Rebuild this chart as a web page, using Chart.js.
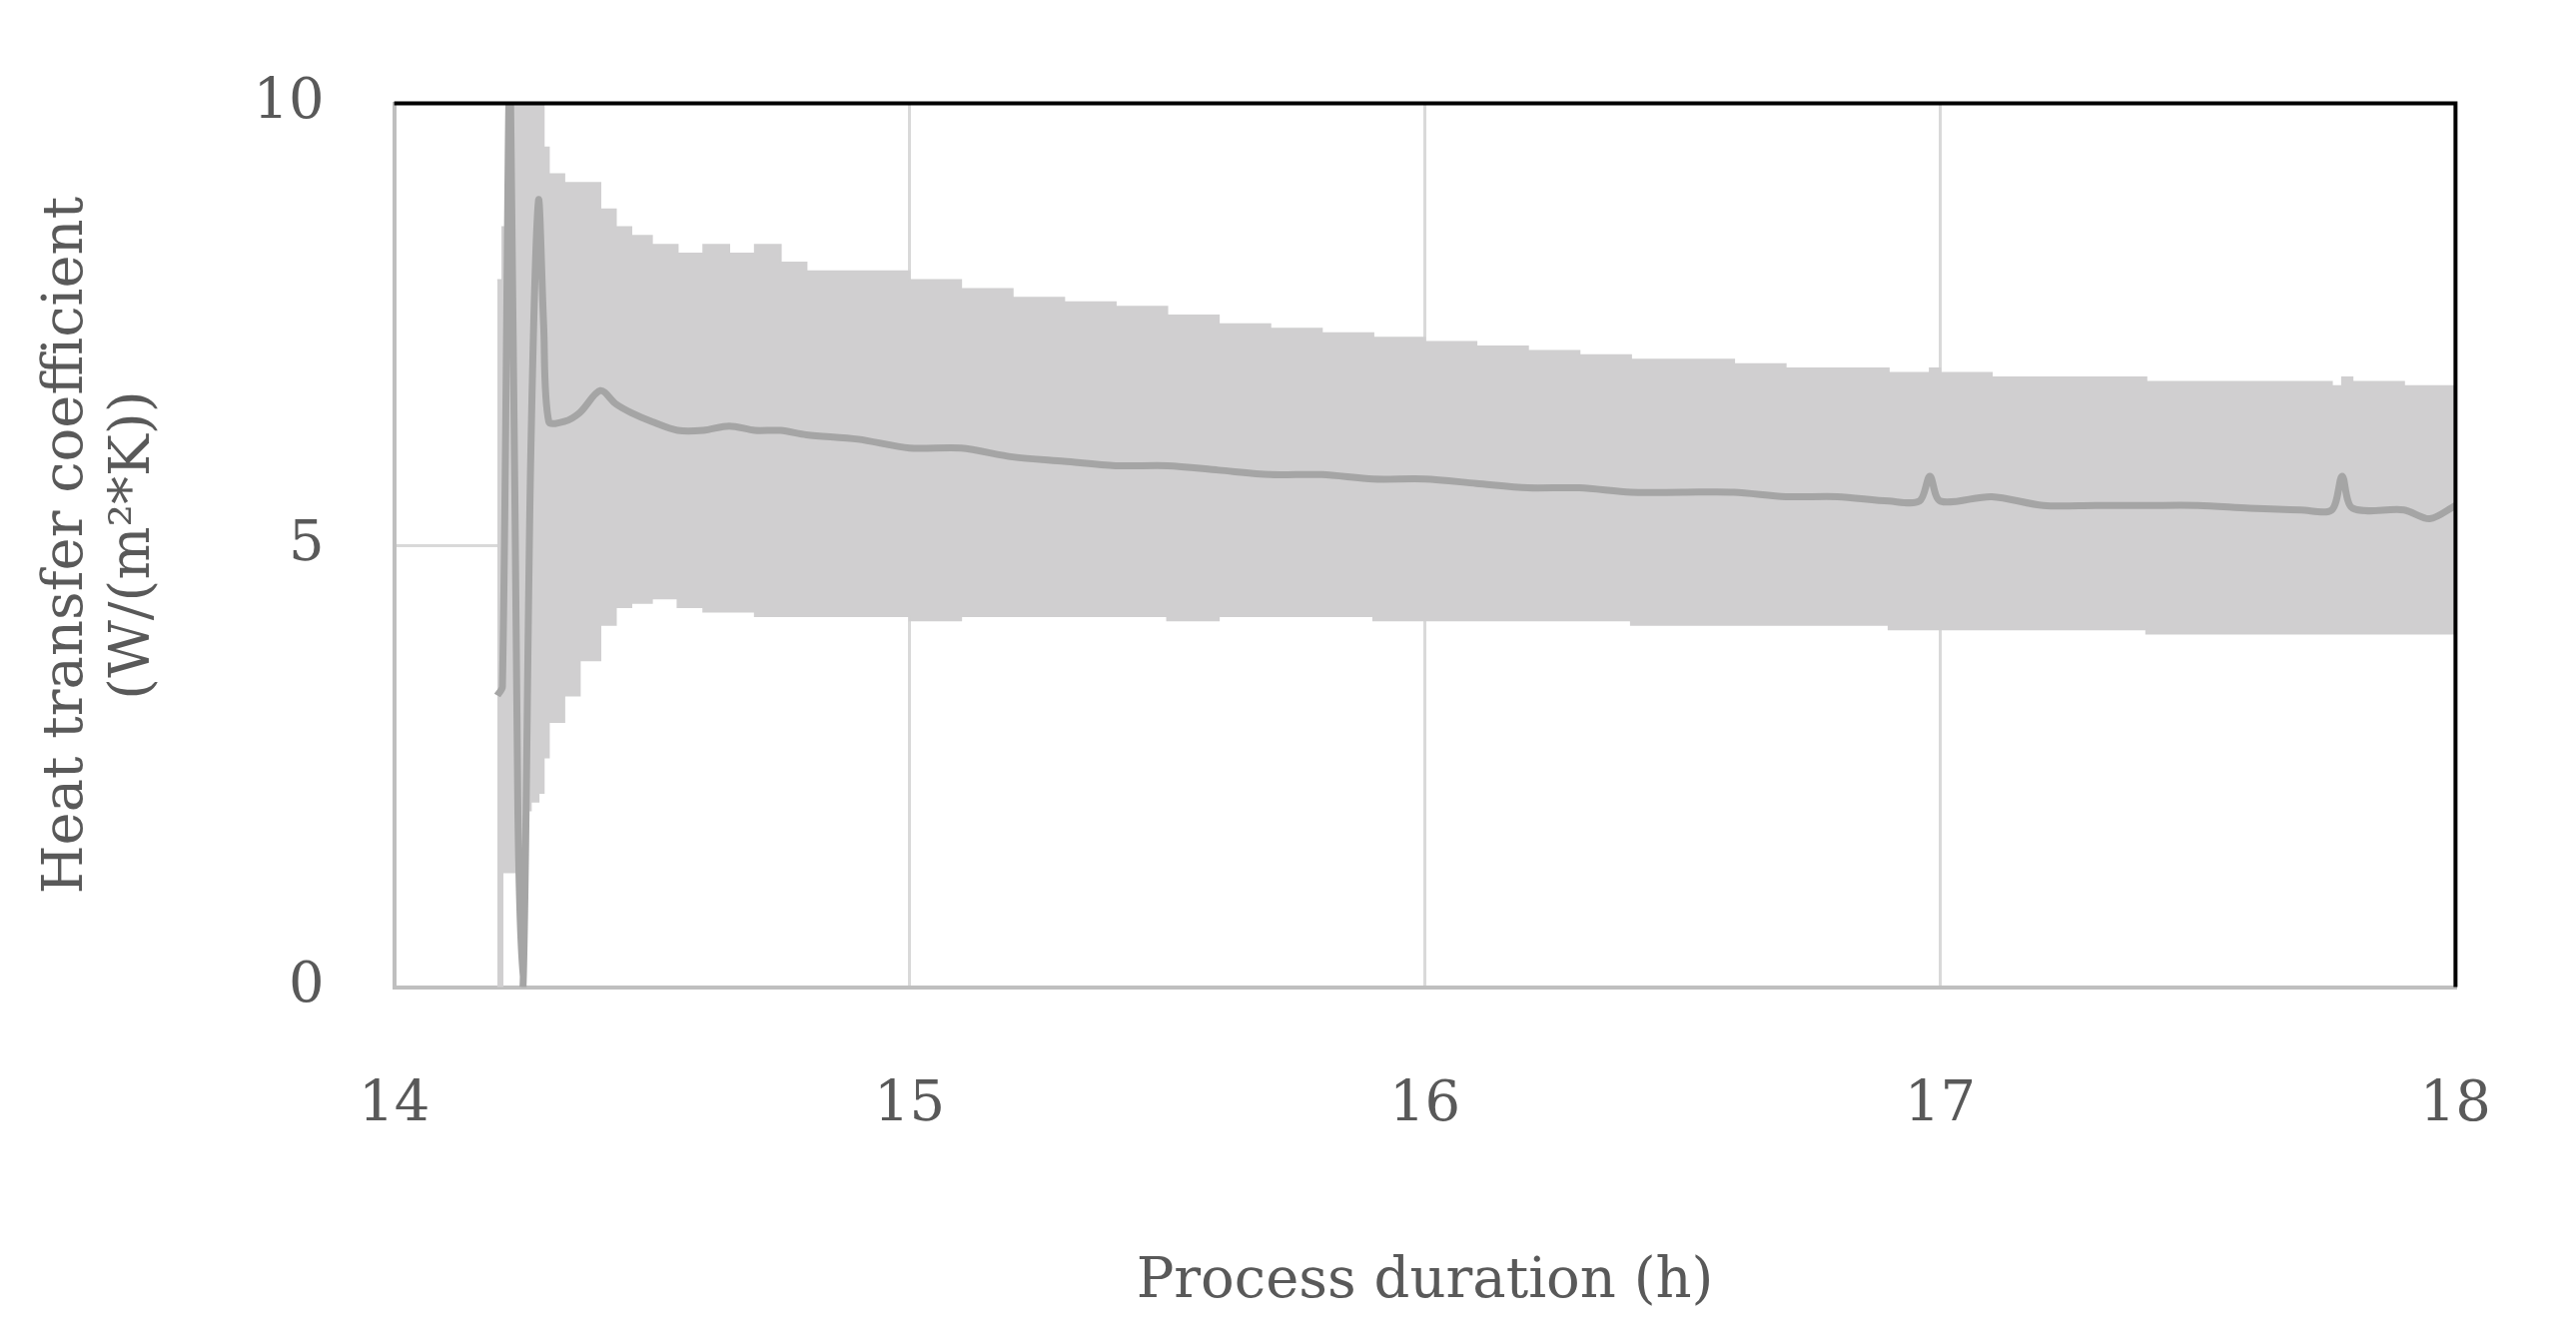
<!DOCTYPE html>
<html>
<head>
<meta charset="utf-8">
<script src="https://cdn.jsdelivr.net/npm/chart.js@4"></script>
<style>
  body { margin: 0; background: #fff; }
  #wrap { width: 2579px; height: 1342px; }
</style>
</head>
<body>
<div id="wrap"><canvas id="c"></canvas></div>
<script>
// process duration (h) and heat transfer coefficient
const hours = [14.2, 14.21, 14.225, 14.24, 14.25, 14.265, 14.28, 14.29, 14.3, 14.33, 14.36, 14.4, 14.43, 14.46, 14.5, 14.55, 14.6, 14.65, 14.7, 14.75, 14.8, 14.9, 15.0, 15.1, 15.2, 15.3, 15.4, 15.5, 15.6, 15.7, 15.8, 15.9, 16.0, 16.1, 16.2, 16.3, 16.4, 16.5, 16.6, 16.7, 16.8, 16.9, 16.96, 16.98, 17.0, 17.1, 17.2, 17.3, 17.4, 17.5, 17.6, 17.7, 17.76, 17.78, 17.8, 17.9, 17.95, 18.0];
const mean = [3.3, 3.4, 10.5, 2.0, 0.0, 6.0, 8.9, 7.5, 6.4, 6.4, 6.5, 6.75, 6.6, 6.5, 6.4, 6.3, 6.3, 6.35, 6.3, 6.3, 6.25, 6.2, 6.1, 6.1, 6.0, 5.95, 5.9, 5.9, 5.85, 5.8, 5.8, 5.75, 5.75, 5.7, 5.65, 5.65, 5.6, 5.6, 5.6, 5.55, 5.55, 5.5, 5.5, 5.78, 5.5, 5.55, 5.45, 5.45, 5.45, 5.45, 5.42, 5.4, 5.4, 5.78, 5.42, 5.4, 5.3, 5.45];
const upper = [8.0, 8.6, 10.0, 10.0, 10.0, 10.0, 10.0, 9.5, 9.2, 9.1, 9.1, 8.8, 8.6, 8.5, 8.4, 8.3, 8.4, 8.3, 8.4, 8.2, 8.1, 8.1, 8.0, 7.9, 7.8, 7.75, 7.7, 7.6, 7.5, 7.45, 7.4, 7.35, 7.3, 7.25, 7.2, 7.15, 7.1, 7.1, 7.05, 7.0, 7.0, 6.95, 6.95, 7.0, 6.95, 6.9, 6.9, 6.9, 6.85, 6.85, 6.85, 6.85, 6.8, 6.9, 6.85, 6.8, 6.8, 6.8];
const lower = [0.0, 1.3, 1.3, 1.3, 2.0, 2.1, 2.2, 2.6, 3.0, 3.3, 3.7, 4.1, 4.3, 4.35, 4.4, 4.3, 4.25, 4.25, 4.2, 4.2, 4.2, 4.2, 4.15, 4.2, 4.2, 4.2, 4.2, 4.15, 4.2, 4.2, 4.2, 4.15, 4.15, 4.15, 4.15, 4.15, 4.1, 4.1, 4.1, 4.1, 4.1, 4.05, 4.05, 4.05, 4.05, 4.05, 4.05, 4.05, 4.0, 4.0, 4.0, 4.0, 4.0, 4.0, 4.0, 4.0, 4.0, 4.0];
const xTicks = [14, 15, 16, 17, 18];
const yTicks = [0, 5, 10];

const pts = arr => hours.map((h, i) => ({ x: h, y: arr[i] }));
const font = { family: "'DejaVu Serif', serif", size: 56 };
const grey = "#595959";

// black frame on top and right like the original
const frame = {
  id: "frame",
  afterDraw(chart) {
    const { ctx, chartArea: a } = chart;
    ctx.save();
    ctx.strokeStyle = "#000";
    ctx.lineWidth = 4;
    ctx.beginPath();
    ctx.moveTo(a.left, a.top);
    ctx.lineTo(a.right, a.top);
    ctx.lineTo(a.right, a.bottom);
    ctx.stroke();
    ctx.restore();
  },
};

new Chart(document.getElementById("c"), {
  type: "line",
  data: {
    datasets: [
      {
        data: pts(upper),
        borderColor: "#d0cfd0",
        borderWidth: 2,
        backgroundColor: "#d0cfd0",
        fill: "+1",
        pointRadius: 0,
        stepped: true,
        order: 2,
      },
      {
        data: pts(lower),
        borderColor: "#d0cfd0",
        borderWidth: 2,
        fill: false,
        pointRadius: 0,
        stepped: true,
        order: 1,
      },
      {
        data: pts(mean),
        borderColor: "#a5a5a5",
        borderWidth: 7,
        fill: false,
        pointRadius: 0,
        tension: 0.3,
        order: 0,
      },
    ],
  },
  options: {
    responsive: true,
    maintainAspectRatio: false,
    animation: false,
    layout: { padding: { left: 30, right: 63, top: 20, bottom: 20 } },
    plugins: { legend: { display: false }, tooltip: { enabled: false } },
    scales: {
      x: {
        type: "linear",
        min: 14,
        max: 18,
        afterBuildTicks: s => { s.ticks = xTicks.map(v => ({ value: v })); },
        ticks: { color: grey, font, padding: 85 },
        grid: { color: "#d9d9d9", lineWidth: 3, drawTicks: false },
        border: { color: "#bfbfbf", width: 4 },
        title: { display: true, text: "Process duration (h)", color: grey, font, padding: { top: 25 } },
      },
      y: {
        min: 0,
        max: 10,
        afterBuildTicks: s => { s.ticks = yTicks.map(v => ({ value: v })); },
        ticks: { color: grey, font, padding: 70 },
        grid: { color: "#d9d9d9", lineWidth: 3, drawTicks: false },
        border: { color: "#bfbfbf", width: 4 },
        title: { display: true, text: ["Heat transfer coefficient", "(W/(m²*K))"], color: grey, font, padding: { bottom: 15 } },
      },
    },
  },
  plugins: [frame],
});
</script>
</body>
</html>
